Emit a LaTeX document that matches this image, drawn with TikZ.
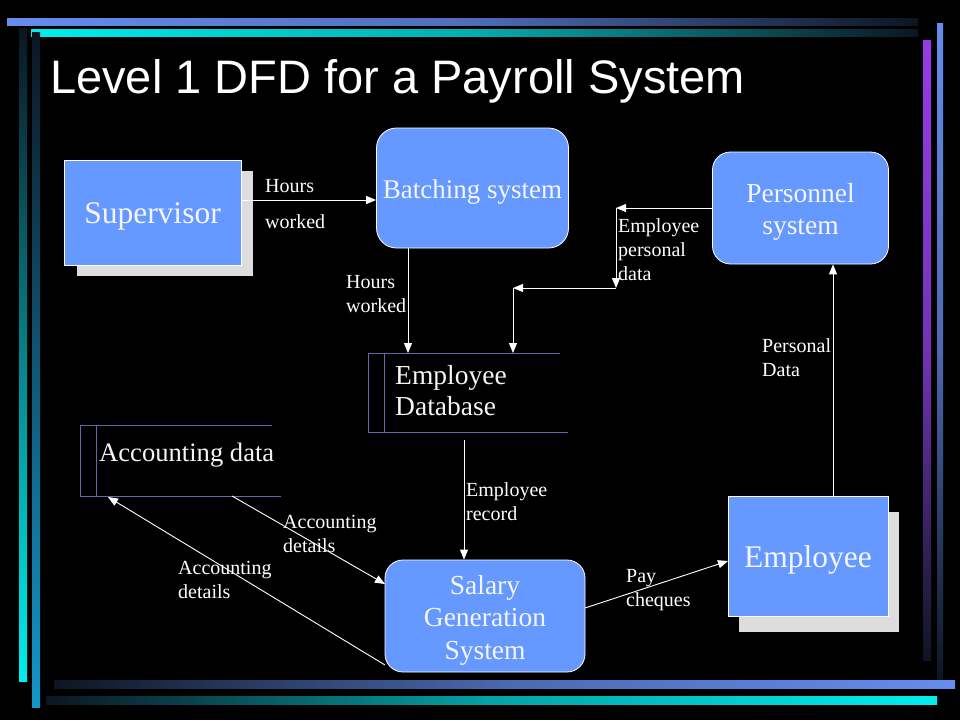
\documentclass[tikz,border=0pt]{standalone}
\usepackage{fontspec}
\setmainfont{Liberation Serif}
\newfontfamily\titlefont{Liberation Sans}
\usetikzlibrary{arrows.meta}
\definecolor{boxblue}{RGB}{102,153,255}
\definecolor{shadowgray}{RGB}{221,221,221}
\definecolor{storeline}{RGB}{96,104,176}
\definecolor{stripeblue}{RGB}{102,140,238}
\definecolor{stripecyan}{RGB}{0,238,238}
\definecolor{stripeteal}{RGB}{20,150,200}
\definecolor{stripepurple}{RGB}{150,60,230}
\definecolor{darkend}{RGB}{12,22,34}
\definecolor{txt}{RGB}{245,245,245}
\tikzset{
  entity/.style={draw=white, line width=0.8pt, fill=boxblue, inner sep=0pt},
  entitytext/.style={text=txt, inner sep=0pt, yshift=-4pt, font=\fontsize{31.5}{36}\selectfont},
  shadowbox/.style={fill=shadowgray, draw=none, inner sep=0pt},
  process/.style={draw=white, line width=0.8pt, fill=boxblue, rounded corners=18pt, inner sep=0pt},
  proctext/.style={text=txt, inner sep=0pt, yshift=-4pt, align=center, font=\fontsize{27.5}{32.5}\selectfont},
  storetext/.style={text=txt, inner sep=0pt, align=left, anchor=west, font=\fontsize{27.5}{31}\selectfont},
  lbl/.style={text=white, inner sep=0pt, align=left, anchor=west, font=\fontsize{20}{24}\selectfont},
  flow/.style={draw=white, line width=0.9pt, -{Triangle[length=10pt,width=8pt]}},
  storeln/.style={draw=storeline, line width=1pt}
}
\begin{document}
\begin{tikzpicture}[x=1pt,y=-1pt]
\useasboundingbox (0,0) rectangle (960,720);
\fill[black] (0,0) rectangle (960,720);
% decorative stripes
\shade[left color=stripeblue, right color=darkend, middle color=stripeblue!75!darkend] (7,18) rectangle (918,25);
\shade[left color=stripecyan, right color=darkend, middle color=stripecyan!70!darkend] (31,29) rectangle (918,36);
\shade[top color=darkend, bottom color=stripecyan] (19,28) rectangle (27,681);
\shade[top color=darkend, bottom color=stripeteal] (32,32) rectangle (40,707);
\shade[top color=stripepurple, bottom color=darkend, middle color=stripepurple!75!darkend] (923,40) rectangle (931,660);
\shade[top color=stripeblue, bottom color=darkend, middle color=stripeblue!70!darkend] (937,23) rectangle (943,679);
\shade[left color=darkend, right color=stripeblue, middle color=stripeblue!70!darkend] (54,680) rectangle (955,688);
\shade[left color=darkend, right color=stripecyan, middle color=stripecyan!65!darkend] (46,696) rectangle (937,704);

% title
\node[anchor=base west, inner sep=0pt, text=white, font=\titlefont\fontsize{47}{50}\selectfont] (title) at (50,93) {Level 1 DFD for a Payroll System};

% external entities
\node[shadowbox, minimum width=176pt, minimum height=105pt] (supsh) at (165,223.5) {};
\node[entity, minimum width=177pt, minimum height=105pt, label={[entitytext]center:Supervisor}] (sup) at (152.5,212.5) {};
\node[shadowbox, minimum width=160pt, minimum height=120pt] (empsh) at (819,572) {};
\node[entity, minimum width=160pt, minimum height=120pt, label={[entitytext]center:Employee}] (emp) at (808,556) {};

% processes
\node[process, rounded corners=20pt, minimum width=192pt, minimum height=120pt, label={[proctext, font=\fontsize{27}{32.5}\selectfont]center:Batching system}] (batch) at (472.5,188) {};
\node[process, minimum width=176pt, minimum height=112pt, label={[proctext]center:Personnel\\system}] (pers) at (800.5,208) {};
\node[process, minimum width=200pt, minimum height=112pt, label={[proctext]center:Salary\\Generation\\System}] (sal) at (485,616) {};

% data stores
\draw[storeln] (560,353) -- (368,353) -- (368,432) -- (568,432);
\draw[storeln] (384,353) -- (384,432);
\node[storetext] (db) at (395,391) {Employee\\Database};
\draw[storeln] (272,425) -- (80,425) -- (80,496) -- (281,496);
\draw[storeln] (96,425) -- (96,496);
\node[storetext, font=\fontsize{26.6}{31}\selectfont] (acc) at (99,455) {Accounting data};

% named connector points
\coordinate (dbtop) at (368,353);
\coordinate (dbout) at (464,440);
\coordinate (s1) at (241,200);
\coordinate (b1) at (408,248);
\coordinate (p1) at (616,208);
\coordinate (p2) at (616,288);
\coordinate (p3) at (513,288);
\coordinate (e1) at (833,496);
\coordinate (salout) at (585,608);
\coordinate (empin) at (728,561);
\coordinate (accout) at (232,496);
\coordinate (salin) at (385,584);
\coordinate (salout2) at (385,665);
\coordinate (accin) at (108,497);

% flows
\draw[flow] (s1) -- (s1 -| batch.west);
\draw[flow] (b1) -- (b1 |- dbtop);
\draw[flow] (pers.west) -- (p1);
\draw[flow] (p1) -- (p2);
\draw[flow] (p2) -- (p3);
\draw[flow] (p3) -- (p3 |- dbtop);
\draw[flow] (dbout) -- (dbout |- sal.north);
\draw[flow] (accout) -- (salin);
\draw[flow] (salout2) -- (accin);
\draw[flow] (salout) -- (empin);
\draw[flow] (e1) -- (e1 |- pers.south);

% flow labels
\node[lbl] (l1a) at (265,186) {Hours};
\node[lbl] (l1b) at (265,222) {worked};
\node[lbl] (l2) at (346,294) {Hours\\worked};
\node[lbl] (l3) at (618,250) {Employee\\personal\\data};
\node[lbl] (l4) at (762,358) {Personal\\Data};
\node[lbl] (l5) at (466,502) {Employee\\record};
\node[lbl] (l6) at (283,534) {Accounting\\details};
\node[lbl] (l7) at (178,580) {Accounting\\details};
\node[lbl] (l8) at (626,590) {Pay\\cheques};
\end{tikzpicture}
\end{document}
